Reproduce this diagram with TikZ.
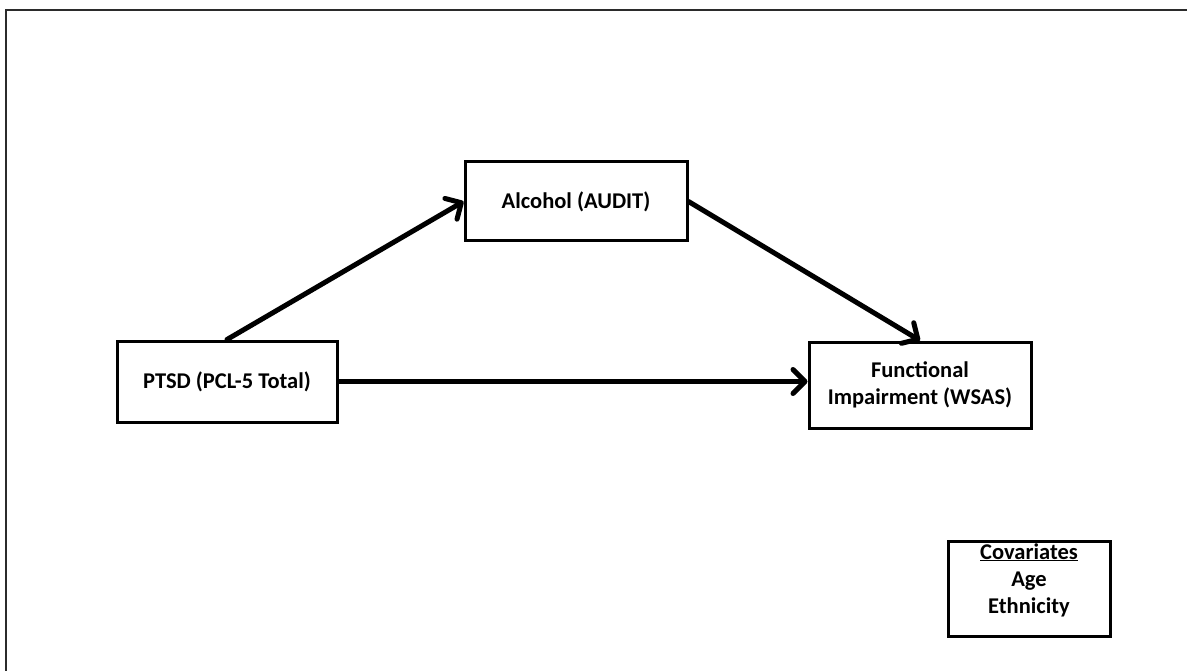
\documentclass[tikz,border=0pt]{standalone}
\usepackage{fontspec}
\setmainfont{Carlito}
\usetikzlibrary{arrows.meta}
\definecolor{framegray}{HTML}{2B2B2B}
\begin{document}
\begin{tikzpicture}[x=1pt,y=-1pt,
  every node/.style={font=\fontsize{22.5}{27}\selectfont\bfseries},
  varbox/.style={draw=black,line width=3pt,fill=white,inner sep=0pt,
    align=center,minimum width=#1},
  path/.style={line width=5pt,line cap=round,
    -{Straight Barb[length=12pt,width=24pt,line cap=round,line join=round]}},
  frameline/.style={draw=framegray,line width=2pt}]
\useasboundingbox (0,0) rectangle (1187,671);
% open frame along the top and left edges
\draw[frameline] (6,671) -- (6,10) -- (1187,10);

% variables of the mediation model
\node[varbox=222pt,minimum height=79pt] (alc) at (576,201.5) {Alcohol (AUDIT)};
\node[varbox=220pt,minimum height=81pt] (ptsd) at (227,381.5) {PTSD (PCL-5 Total)};
\node[varbox=222pt,minimum height=86pt] (wsas) at (920,385) {Functional\\Impairment (WSAS)};

% covariates box
\node[varbox=162pt,minimum height=95pt] (cov) at (1029,588.5) {};
\node[align=center,inner sep=0pt] (covtext) at (1029,580) {\underline{Covariates}\\Age\\Ethnicity};

% paths
\draw[path] (ptsd.north) -- (alc.west);
\draw[path] (alc.east) -- (wsas.north);
\draw[path] (ptsd.east) -- (ptsd.east -| wsas.west);
\end{tikzpicture}
\end{document}
